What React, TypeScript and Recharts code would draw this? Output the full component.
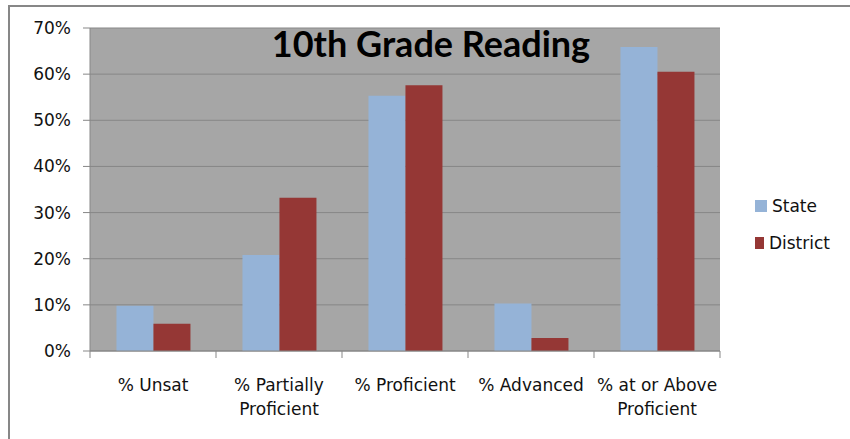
import React from 'react';
import {
  BarChart,
  Bar,
  XAxis,
  YAxis,
  CartesianGrid,
  Legend,
} from 'recharts';

const categories = [
  '% Unsat',
  '% Partially\nProficient',
  '% Proficient',
  '% Advanced',
  '% at or Above\nProficient',
];
const seriesNames = ['State', 'District'];
const stateValues = [9.8, 20.8, 55.3, 10.3, 65.9];
const districtValues = [5.9, 33.2, 57.6, 2.8, 60.5];
const yTicks = [0, 10, 20, 30, 40, 50, 60, 70];

const data = categories.map((name, i) => ({
  name,
  state: stateValues[i],
  district: districtValues[i],
}));

const FONT = '"DejaVu Sans", Verdana, sans-serif';
const LINE = '#878787';

function CategoryTick(props: any) {
  const { x, y, payload, index, visibleTicksCount } = props;
  const half = payload.offset ?? 0;
  const lines = String(payload.value).split('\n');
  const isLast = index === (visibleTicksCount ?? categories.length) - 1;
  return (
    <g>
      <line x1={x - half} x2={x - half} y1={y} y2={y + 7} stroke={LINE} />
      {isLast && <line x1={x + half} x2={x + half} y1={y} y2={y + 7} stroke={LINE} />}
      <text x={x} y={y + 40} textAnchor="middle" fontFamily={FONT} fontSize={17} fill="#111">
        {lines.map((l, i) => (
          <tspan key={i} x={x} dy={i === 0 ? 0 : 24}>
            {l}
          </tspan>
        ))}
      </text>
    </g>
  );
}

function LegendBox(props: any) {
  const items = [...(props.payload ?? [])].sort(
    (a: any, b: any) => seriesNames.indexOf(a.value) - seriesNames.indexOf(b.value),
  );
  return (
    <div style={{ width: 110, paddingTop: 10, boxSizing: 'border-box' }}>
      {items.map((p: any) => (
        <div
          key={p.value}
          style={{
            height: 37,
            display: 'flex',
            alignItems: 'center',
            paddingLeft: 35,
            fontFamily: FONT,
            fontSize: 17,
            color: '#111',
          }}
        >
          <span style={{ width: 12, height: 12, background: p.color, marginRight: 5, display: 'inline-block' }} />
          {p.value}
        </div>
      ))}
    </div>
  );
}

export default function App() {
  return (
    <div style={{ position: 'absolute', left: 0, top: 0, width: 850, height: 439, background: '#fff' }}>
      <div
        style={{
          position: 'absolute',
          left: 8,
          top: 5,
          width: 842,
          height: 434,
          borderTop: `2px solid ${LINE}`,
          borderLeft: `2px solid ${LINE}`,
          boxSizing: 'border-box',
        }}
      />
      <BarChart
        width={850}
        height={439}
        data={data}
        margin={{ top: 28, right: 20, left: 0, bottom: 28 }}
        barCategoryGap="21%"
        barGap={0}
      >
        <CartesianGrid vertical={false} stroke={LINE} fill="#A6A6A6" />
        <XAxis
          dataKey="name"
          height={60}
          interval={0}
          tickLine={false}
          tickSize={0}
          tickMargin={0}
          axisLine={{ stroke: LINE }}
          tick={<CategoryTick />}
        />
        <YAxis
          width={90}
          domain={[0, 70]}
          ticks={yTicks}
          tickFormatter={(v: number) => `${v}%`}
          tickSize={7}
          tickMargin={12}
          axisLine={{ stroke: LINE }}
          tickLine={{ stroke: LINE }}
          tick={{ fontFamily: FONT, fontSize: 17, fill: '#111' }}
        />
        <Legend layout="vertical" align="right" verticalAlign="middle" content={<LegendBox />} />
        <Bar dataKey="state" name={seriesNames[0]} fill="#95B3D7" isAnimationActive={false} />
        <Bar dataKey="district" name={seriesNames[1]} fill="#953735" isAnimationActive={false} />
      </BarChart>
      <div
        style={{
          position: 'absolute',
          left: 131,
          top: 25,
          width: 600,
          textAlign: 'center',
          fontFamily: 'Lato, "Open Sans", sans-serif',
          fontWeight: 700,
          fontSize: 36,
          lineHeight: '36px',
          color: '#000',
        }}
      >
        10th Grade Reading
      </div>
    </div>
  );
}
